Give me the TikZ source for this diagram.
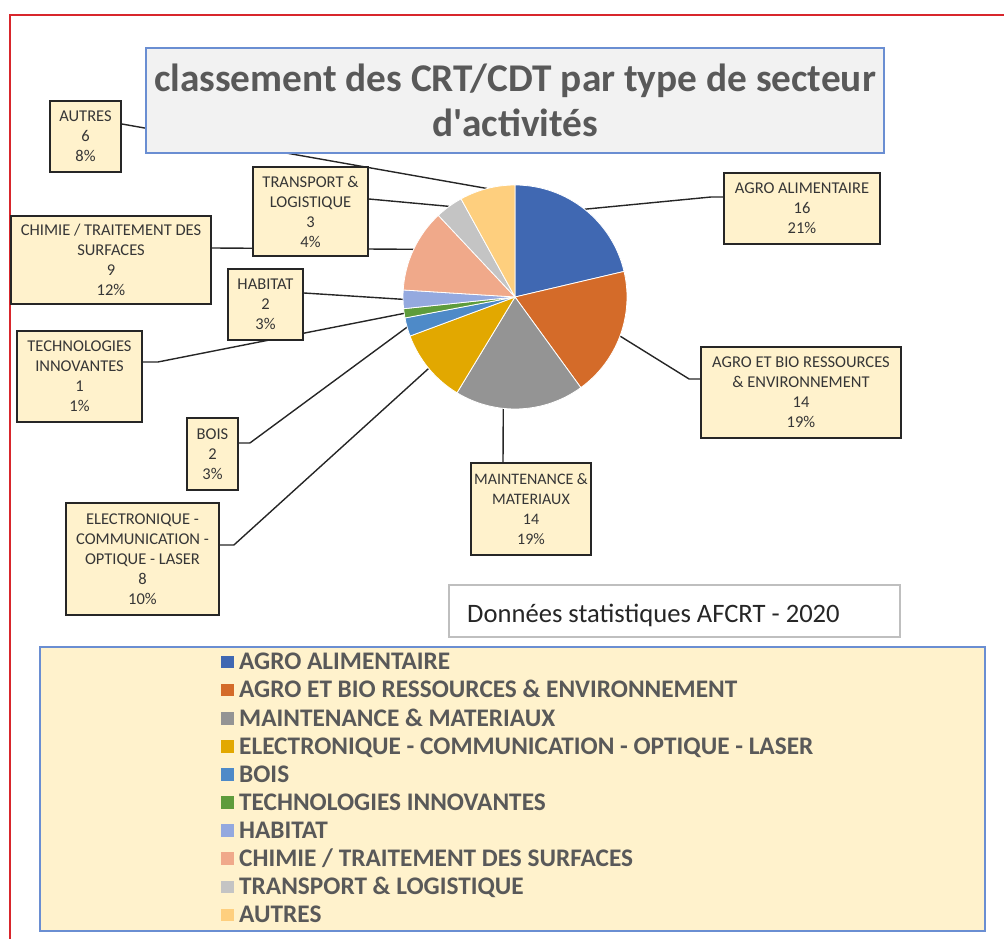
\documentclass[tikz,border=0pt]{standalone}
\usepackage{fontspec}
\setmainfont{Carlito}
\usetikzlibrary{calc,backgrounds}
\definecolor{cA}{HTML}{4068B2}
\definecolor{cB}{HTML}{D46B29}
\definecolor{cC}{HTML}{949494}
\definecolor{cD}{HTML}{E2A800}
\definecolor{cE}{HTML}{4E8AC8}
\definecolor{cF}{HTML}{5E9C3C}
\definecolor{cG}{HTML}{94A9DF}
\definecolor{cH}{HTML}{F0A98A}
\definecolor{cI}{HTML}{C4C4C4}
\definecolor{cJ}{HTML}{FECF7E}
\definecolor{lblfill}{HTML}{FFF2CC}
\definecolor{lbltext}{HTML}{363636}
\definecolor{legtext}{HTML}{595959}
\definecolor{boxblue}{HTML}{6A8ED2}
\definecolor{titlefill}{HTML}{F2F2F2}
\definecolor{framered}{HTML}{D8262C}
\begin{document}
\begin{tikzpicture}[x=1pt,y=1pt,
  lbl/.style={draw=black!85, line width=1.8pt, fill=lblfill, inner sep=0pt,
    text=lbltext, align=center, font=\fontsize{16.5}{20}\selectfont},
  leader/.style={draw=black!85, line width=1.4pt},
  slice/.style={draw=white, line width=0.8pt},
  legsq/.style={minimum width=13pt, minimum height=12.6pt, inner sep=0pt},
  legtxt/.style={anchor=base west, inner sep=0pt, text=legtext,
    font=\bfseries\fontsize{25.3}{28}\selectfont}]
\useasboundingbox (0,0) rectangle (1004,938);
% red frame
\draw[framered, line width=2pt] (10,-5) -- (10,923) -- (1010,923);

% pie
\coordinate (pc) at (515,641);
\foreach \s/\e/\col in {90/13.2/cA, 13.2/-54/cB, -54/-121.2/cC, -121.2/-159.6/cD,
  -159.6/-169.2/cE, -169.2/-174/cF, -174/-183.6/cG, -183.6/-226.8/cH,
  -226.8/-241.2/cI, -241.2/-270/cJ}
  \filldraw[slice, fill=\col] (pc) -- ++(\s:112) arc[start angle=\s, end angle=\e, radius=112] -- cycle;

% leader end points on the pie
\coordinate (pA) at ([shift={(51.6:112)}]pc);
\coordinate (pB) at ([shift={(-20.4:112)}]pc);
\coordinate (pC) at ([shift={(-96:112)}]pc);
\coordinate (pD) at ([shift={(-140.4:112)}]pc);
\coordinate (pE) at ([shift={(-164.4:112)}]pc);
\coordinate (pF) at ([shift={(-171.6:112)}]pc);
\coordinate (pG) at ([shift={(-178.8:112)}]pc);
\coordinate (pH) at ([shift={(-205.2:112)}]pc);
\coordinate (pI) at ([shift={(-234:112)}]pc);
\coordinate (pJ) at ([shift={(-255.6:112)}]pc);

% label boxes
\node[lbl, minimum width=71pt, minimum height=71pt] (autres) at (85.5,801.5) {AUTRES\\6\\8\%};
\node[lbl, minimum width=115pt, minimum height=89pt] (transport) at (310.5,726.5) {TRANSPORT \&\\LOGISTIQUE\\3\\4\%};
\node[lbl, minimum width=200pt, minimum height=88pt] (chimie) at (111,678) {CHIMIE / TRAITEMENT DES\\SURFACES\\9\\12\%};
\node[lbl, minimum width=75pt, minimum height=71pt] (habitat) at (265.5,633.5) {HABITAT\\2\\3\%};
\node[lbl, minimum width=125pt, minimum height=91pt] (tech) at (79.5,561.5) {TECHNOLOGIES\\INNOVANTES\\1\\1\%};
\node[lbl, minimum width=51pt, minimum height=72pt] (bois) at (212.5,484) {BOIS\\2\\3\%};
\node[lbl, minimum width=153pt, minimum height=112pt] (elec) at (142.5,379) {ELECTRONIQUE -\\COMMUNICATION -\\OPTIQUE - LASER\\8\\10\%};
\node[lbl, minimum width=156pt, minimum height=71pt] (agroalim) at (802,729.5) {AGRO ALIMENTAIRE\\16\\21\%};
\node[lbl, minimum width=200pt, minimum height=91pt] (agrobio) at (801,545.5) {AGRO ET BIO RESSOURCES\\\& ENVIRONNEMENT\\14\\19\%};
\node[lbl, minimum width=120pt, minimum height=92pt, font=\fontsize{16}{20}\selectfont] (maint) at (531,429) {MAINTENANCE \&\\MATERIAUX\\14\\19\%};

% title
\node[draw=boxblue, line width=1.6pt, fill=titlefill, minimum width=738pt, minimum height=105pt,
  align=center, text=legtext, font=\bfseries\fontsize{39.3}{45}\selectfont, inner sep=0pt]
  (title) at (515,837.5) {classement des CRT/CDT par type de secteur\\d\textquotesingle activités};

% leaders (behind boxes)
\begin{scope}[on background layer]
\draw[leader] ([yshift=12.5pt]autres.east) -- (pJ);
\draw[leader] ([yshift=12.5pt]transport.east) -- (pI);
\draw[leader] ([yshift=12pt]chimie.east) -- (pH);
\draw[leader] ([yshift=11.5pt]habitat.east) -- (pG);
\draw[leader] ([yshift=14.5pt]tech.east) -- ++(15,0) -- (pF);
\draw[leader] ([yshift=11pt]bois.east) -- ++(11,0) -- (pE);
\draw[leader] ([yshift=14pt]elec.east) -- ++(14,0) -- (pD);
\draw[leader] ([yshift=11.5pt]agroalim.west) -- ++(-12,0) -- (pA);
\draw[leader] ([yshift=13.5pt]agrobio.west) -- ++(-11,0) -- (pB);
\draw[leader] ([xshift=-28pt]maint.north) -- (pC);
\end{scope}

% source box
\node[draw=black!25, line width=1.2pt, minimum width=451pt, minimum height=52pt, inner sep=0pt]
  (src) at (674.5,327) {};
\node[anchor=base west, inner sep=0pt, text=black!85, font=\fontsize{26.6}{30}\selectfont]
  (srctext) at (467,316) {Données statistiques AFCRT - 2020};

% legend
\node[draw=boxblue, line width=2pt, fill=lblfill, minimum width=945pt, minimum height=284pt, inner sep=0pt]
  (legend) at (512.5,149) {};
\foreach \col/\txt [count=\k from 0] in {cA/{AGRO ALIMENTAIRE},
  cB/{AGRO ET BIO RESSOURCES \& ENVIRONNEMENT},
  cC/{MAINTENANCE \& MATERIAUX},
  cD/{ELECTRONIQUE - COMMUNICATION - OPTIQUE - LASER},
  cE/{BOIS}, cF/{TECHNOLOGIES INNOVANTES}, cG/{HABITAT},
  cH/{CHIMIE / TRAITEMENT DES SURFACES},
  cI/{TRANSPORT \& LOGISTIQUE}, cJ/{AUTRES}}
{
  \node[legsq, fill=\col] (legsq\k) at (227.5,{276-28.1*\k}) {};
  \node[legtxt] (legtxt\k) at (239,{276-28.1*\k-7.8}) {\txt};
}
\end{tikzpicture}
\end{document}
